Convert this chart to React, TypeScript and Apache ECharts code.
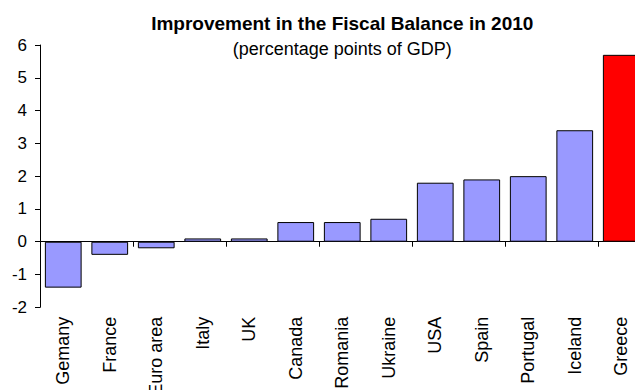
import React, { useEffect, useRef } from "react";
import * as echarts from "echarts";

const categories = [
  "Gemany", "France", "Euro area", "Italy", "UK", "Canada", "Romania",
  "Ukraine", "USA", "Spain", "Portugal", "Iceland", "Greece",
];
const values = [-1.4, -0.4, -0.2, 0.1, 0.1, 0.6, 0.6, 0.7, 1.8, 1.9, 2.0, 3.4, 5.7];
const highlighted = "Greece";
const titleText = "Improvement in the Fiscal Balance in 2010";
const subtitleText = "(percentage points of GDP)";

const FONT = "'Liberation Sans', Arial, sans-serif";

export default function App() {
  const ref = useRef<HTMLDivElement>(null);
  useEffect(() => {
    if (!ref.current) return;
    const chart = echarts.init(ref.current, undefined, { renderer: "svg" });
    const gridLeft = 40;
    const gridWidth = 604.5;
    const centerX = gridLeft + gridWidth / 2;
    chart.setOption({
      animation: false,
      backgroundColor: "#ffffff",
      graphic: [
        {
          type: "text",
          x: centerX,
          y: 23.5,
          style: {
            text: titleText,
            font: `bold 19px ${FONT}`,
            fill: "#000",
            textAlign: "center",
            textVerticalAlign: "middle",
          },
        },
        {
          type: "text",
          x: centerX,
          y: 48.5,
          style: {
            text: subtitleText,
            font: `18px ${FONT}`,
            fill: "#000",
            textAlign: "center",
            textVerticalAlign: "middle",
          },
        },
      ],
      grid: {
        left: gridLeft,
        width: gridWidth,
        top: 45,
        bottom: 82.7,
        containLabel: false,
        outerBoundsMode: "none",
      },
      xAxis: [
        {
          type: "category",
          data: categories,
          position: "bottom",
          axisLine: { show: true, onZero: true, lineStyle: { color: "#000", width: 1 } },
          axisTick: { show: true, inside: false, length: 5, alignWithLabel: false, lineStyle: { color: "#000" } },
          axisLabel: { show: false },
          splitLine: { show: false },
        },
        {
          type: "category",
          data: categories,
          position: "bottom",
          axisLine: { show: false, onZero: false },
          axisTick: { show: false },
          axisLabel: {
            show: true,
            rotate: 90,
            margin: 9.5,
            fontFamily: FONT,
            fontSize: 18,
            color: "#000",
            interval: 0,
          },
          splitLine: { show: false },
        },
      ],
      yAxis: {
        type: "value",
        min: -2,
        max: 6,
        interval: 1,
        axisLine: { show: true, lineStyle: { color: "#000", width: 1 } },
        axisTick: { show: true, inside: false, length: 5, lineStyle: { color: "#000" } },
        axisLabel: { fontFamily: FONT, fontSize: 17, color: "#000", margin: 13 },
        splitLine: { show: false },
      },
      series: [
        {
          type: "bar",
          xAxisIndex: 0,
          yAxisIndex: 0,
          barCategoryGap: "21%",
          data: values.map((v, i) => ({
            value: v,
            itemStyle: {
              color: categories[i] === highlighted ? "#FF0000" : "#9999FF",
              borderColor: "#000",
              borderWidth: 1,
            },
          })),
        },
      ],
    });
    return () => chart.dispose();
  }, []);
  return (
    <div
      ref={ref}
      style={{ position: "absolute", left: 0, top: 0, width: 635, height: 390 }}
    />
  );
}
